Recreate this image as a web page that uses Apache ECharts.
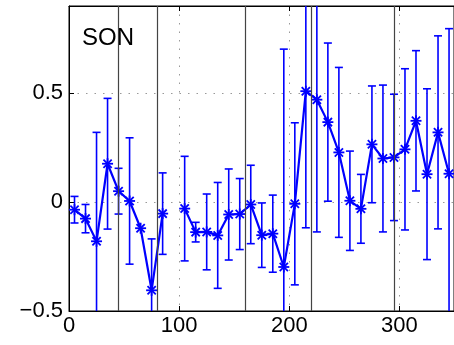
<!DOCTYPE html>
<html>
<head>
<meta charset="utf-8">
<style>
  html, body { margin: 0; padding: 0; background: #fff; }
  #chart { width: 454px; height: 345px; }
</style>
<script src="https://cdn.jsdelivr.net/npm/echarts@6/dist/echarts.min.js"></script>
</head>
<body>
<div id="chart"></div>
<script>
// Seasonal anomaly (SON) with ±1σ error bars
const xPos = [5, 15, 25, 35, 45, 55, 65, 75, 85, 95,
              105, 115, 125, 135, 145, 155, 165, 175, 185, 195,
              205, 215, 225, 235, 245, 255, 265, 275, 285, 295,
              305, 315, 325, 335, 345];
const means = [-0.035, -0.076, -0.18, 0.176, 0.05, 0.005, -0.12, -0.405, -0.053, null,
               -0.03, -0.138, -0.137, -0.153, -0.057, -0.055, -0.011, -0.152, -0.145, -0.298,
               -0.008, 0.509, 0.47, 0.367, 0.228, 0.006, -0.031, 0.265, 0.2, 0.205,
               0.242, 0.373, 0.128, 0.32, 0.13];
const errs = [0.061, 0.065, 0.50, 0.30, 0.105, 0.29, 0, 0.236, 0.187, null,
              0.24, 0.045, 0.174, 0.243, 0.209, 0.163, 0.18, 0.148, 0.177, 1.0,
              0.372, 0.627, 0.607, 0.363, 0.39, 0.228, 0.158, 0.268, 0.337, 0.29,
              0.37, 0.322, 0.392, 0.443, 0.666];
const breakLines = [44.5, 80, 160, 220, 295.5];
const seasonLabel = 'SON';

const Y_MIN = -0.5, Y_MAX = 0.9;
const X_MIN = 0, X_MAX = 349.5;
const BLUE = '#0000ff';
const FONT = 'Liberation Sans, Arial, Helvetica, sans-serif';

const lineData = xPos.map((x, i) => [x, means[i] === null ? '-' : means[i]]);
const errData = [];
xPos.forEach((x, i) => {
  if (means[i] !== null) errData.push([x, means[i], errs[i]]);
});

function renderErr(params, api) {
  const x = api.value(0), m = api.value(1), e = api.value(2);
  const children = [];
  const style = { stroke: BLUE, lineWidth: 1.6, fill: null };
  if (e > 0) {
    const lo = Math.max(m - e, Y_MIN), hi = Math.min(m + e, Y_MAX);
    const pLo = api.coord([x, lo]), pHi = api.coord([x, hi]);
    children.push({ type: 'line', shape: { x1: pLo[0], y1: pLo[1], x2: pHi[0], y2: pHi[1] }, style });
    const cw = 4;
    if (m - e >= Y_MIN) children.push({ type: 'line', shape: { x1: pLo[0] - cw, y1: pLo[1], x2: pLo[0] + cw, y2: pLo[1] }, style });
    if (m + e <= Y_MAX) children.push({ type: 'line', shape: { x1: pHi[0] - cw, y1: pHi[1], x2: pHi[0] + cw, y2: pHi[1] }, style });
  }
  // asterisk marker
  const c = api.coord([x, m]);
  const r = 5.5, d = r * 0.75;
  const st = { stroke: BLUE, lineWidth: 1.8, fill: null };
  children.push({ type: 'line', shape: { x1: c[0] - r, y1: c[1], x2: c[0] + r, y2: c[1] }, style: st });
  children.push({ type: 'line', shape: { x1: c[0], y1: c[1] - r, x2: c[0], y2: c[1] + r }, style: st });
  children.push({ type: 'line', shape: { x1: c[0] - d, y1: c[1] - d, x2: c[0] + d, y2: c[1] + d }, style: st });
  children.push({ type: 'line', shape: { x1: c[0] - d, y1: c[1] + d, x2: c[0] + d, y2: c[1] - d }, style: st });
  return { type: 'group', children };
}

const fmtY = v => {
  if (Math.abs(v - Math.round(v * 2) / 2) > 1e-9) return '';
  return v < 0 ? '\u2212' + Math.abs(v) : String(v);
};
const fmtX = v => (v % 100 === 0 ? String(v) : '');

const chart = echarts.init(document.getElementById('chart'), null, { renderer: 'canvas' });
chart.setOption({
  animation: false,
  backgroundColor: '#fff',
  grid: { left: 69, right: -1, top: 6, bottom: 34, show: true, borderColor: '#000', borderWidth: 1 },
  graphic: [{
    type: 'text', left: 82, top: 26,
    style: { text: seasonLabel, fontSize: 24, fontFamily: FONT, fill: '#000' }
  }],
  xAxis: [{
    type: 'value', min: X_MIN, max: X_MAX, interval: 100,
    axisLine: { show: true, onZero: false, lineStyle: { color: '#000', width: 1 } },
    axisTick: { show: true, inside: true, length: 5, lineStyle: { color: '#000' } },
    axisLabel: { color: '#000', fontSize: 22, fontFamily: FONT, margin: 4, formatter: fmtX, showMaxLabel: false },
    splitLine: { show: true, lineStyle: { color: '#999', type: [1.5, 7], width: 1 } }
  }, {
    type: 'value', position: 'top', min: X_MIN, max: X_MAX, interval: 100,
    axisLine: { show: true, onZero: false, lineStyle: { color: '#000', width: 1 } },
    axisTick: { show: true, inside: true, length: 5, lineStyle: { color: '#000' } },
    axisLabel: { show: false },
    splitLine: { show: false }
  }],
  yAxis: {
    type: 'value', min: Y_MIN, max: Y_MAX, interval: 0.5,
    axisLine: { show: true, onZero: false, lineStyle: { color: '#000', width: 1 } },
    axisTick: { show: true, inside: true, length: 5, lineStyle: { color: '#000' } },
    axisLabel: { color: '#000', fontSize: 22, fontFamily: FONT, margin: 6, formatter: fmtY, showMaxLabel: false },
    splitLine: { show: true, lineStyle: { color: '#999', type: [1.5, 7], width: 1 } }
  },
  series: [{
    type: 'line',
    data: lineData,
    showSymbol: false,
    connectNulls: false,
    lineStyle: { color: BLUE, width: 2.2 },
    z: 3,
    markLine: {
      silent: true,
      symbol: ['none', 'none'],
      label: { show: false },
      lineStyle: { color: '#444', width: 1.2, type: 'solid' },
      data: breakLines.map(v => ({ xAxis: v }))
    }
  }, {
    type: 'custom',
    data: errData,
    renderItem: renderErr,
    z: 4
  }]
});
</script>
</body>
</html>
